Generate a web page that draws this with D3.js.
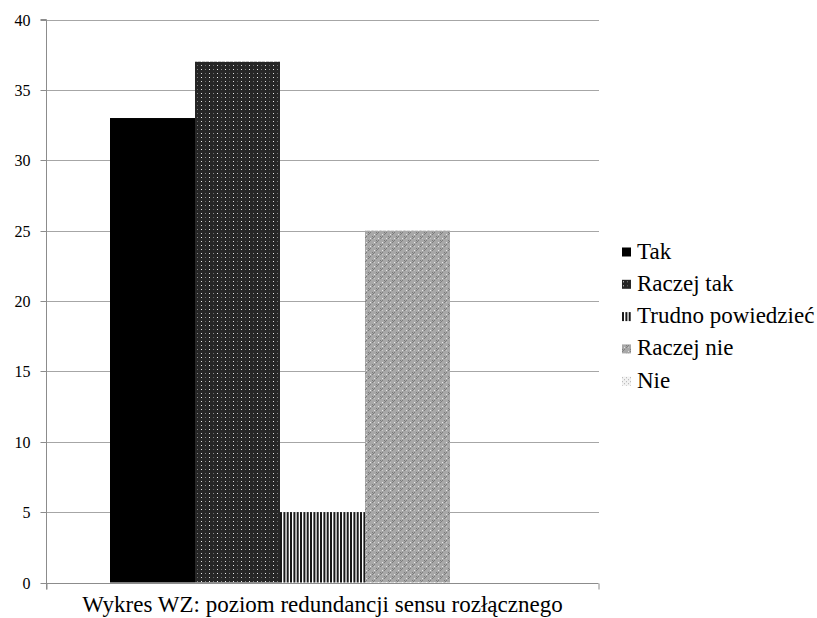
<!DOCTYPE html>
<html>
<head>
<meta charset="utf-8">
<script src="https://cdn.jsdelivr.net/npm/d3@7"></script>
<style>
  html, body { margin: 0; padding: 0; background: #fff; }
  svg { display: block; }
</style>
</head>
<body>
<svg id="chart" width="817" height="618"></svg>
<script>
// Survey answers and their counts
const categories = ["Tak", "Raczej tak", "Trudno powiedzieć", "Raczej nie", "Nie"];
const values = [33, 37, 5, 25, 0];
const yTicks = [0, 5, 10, 15, 20, 25, 30, 35, 40];
const title = "Wykres WZ: poziom redundancji sensu rozłącznego";

const SERIF = "'Liberation Serif', 'Times New Roman', serif";
const svg = d3.select("#chart").attr("font-family", SERIF);
const margin = { left: 46, right: 599, top: 19.5, bottom: 582.5 };

const y = d3.scaleLinear().domain([0, 40]).range([margin.bottom, margin.top]);
// One category group holding five bars side by side
const xGroup = d3.scaleBand().domain(["grp"]).range([margin.left, margin.right]).paddingInner(0).paddingOuter(0.1506);
const xBar = d3.scaleBand().domain(categories).range([xGroup("grp"), xGroup("grp") + xGroup.bandwidth()]);

// Fill patterns
const defs = svg.append("defs");

function pattern(id, w, h, base, cells) {
  const p = defs.append("pattern").attr("id", id).attr("patternUnits", "userSpaceOnUse")
    .attr("width", w).attr("height", h);
  p.append("rect").attr("width", w).attr("height", h).attr("fill", base);
  cells.forEach(c => p.append("rect").attr("x", c[0]).attr("y", c[1])
    .attr("width", c[2] || 1).attr("height", c[3] || 1).attr("fill", c[4]));
}

pattern("p-tak", 4, 4, "#000", []);
pattern("p-raczej-tak", 8, 8, "#262626", [
  [1, 1, 1, 1, "#d8d8d8"], [5, 5, 1, 1, "#8a8a8a"], [5, 1, 1, 1, "#6a6a6a"], [1, 5, 1, 1, "#f0f0f0"]
]);
pattern("p-trudno", 10, 4, "#fff", [
  [0, 0, 2, 4, "#1a1a1a"], [3.4, 0, 2, 4, "#1a1a1a"], [6.7, 0, 2, 4, "#1a1a1a"]
]);
pattern("p-raczej-nie", 8, 8, "#a8a8a8", [
  [0, 0, 1, 1, "#7c7c7c"], [2, 0, 1, 1, "#7c7c7c"], [1, 1, 1, 1, "#7c7c7c"], [0, 2, 1, 1, "#7c7c7c"],
  [4, 4, 1, 1, "#7c7c7c"], [6, 4, 1, 1, "#7c7c7c"], [5, 5, 1, 1, "#7c7c7c"], [4, 6, 1, 1, "#7c7c7c"],
  [6, 2, 1, 1, "#e8e8e8"], [2, 6, 1, 1, "#e8e8e8"], [6, 6, 1, 1, "#c8c8c8"]
]);
pattern("p-nie", 4, 4, "#f2f2f2", [
  [0, 0, 1, 1, "#b0b0b0"], [2, 2, 1, 1, "#b0b0b0"]
]);
const fills = ["url(#p-tak)", "url(#p-raczej-tak)", "url(#p-trudno)", "url(#p-raczej-nie)", "url(#p-nie)"];

// Horizontal gridlines
svg.append("g").selectAll("line").data(yTicks.filter(d => d > 0)).join("line")
  .attr("x1", margin.left).attr("x2", margin.right)
  .attr("y1", d => Math.round(y(d)) + 0.5).attr("y2", d => Math.round(y(d)) + 0.5)
  .attr("stroke", "#a6a6a6").attr("stroke-width", 1);

// Bars
svg.append("g").selectAll("rect").data(categories).join("rect")
  .attr("x", d => xBar(d))
  .attr("y", (d, i) => y(values[i]))
  .attr("width", xBar.bandwidth())
  .attr("height", (d, i) => y(0) - y(values[i]))
  .attr("fill", (d, i) => fills[i]);

// Y axis
const yAxis = svg.append("g").attr("transform", `translate(${margin.left + 0.5},0)`)
  .call(d3.axisLeft(y).tickValues(yTicks).tickSize(6).tickPadding(10));
yAxis.attr("font-family", SERIF).attr("font-size", 16);
yAxis.select(".domain").attr("stroke", "#8c8c8c").attr("d", `M-6,${margin.top}H0V${margin.bottom + 7}`);
yAxis.selectAll(".tick line").attr("stroke", "#8c8c8c");
yAxis.selectAll(".tick text").attr("fill", "#000").style("font-family", SERIF).style("font-size", "16px");
yAxis.selectAll(".tick").attr("transform", d => `translate(0,${Math.round(y(d)) + 0.5})`);

// Category axis along the bottom
const xAxis = svg.append("g").attr("transform", `translate(0,${Math.round(y(0)) + 0.5})`)
  .call(d3.axisBottom(d3.scaleLinear().domain([0, 1]).range([margin.left + 0.5, margin.right - 0.5])).tickValues([0, 1]).tickSize(6).tickFormat(""));
xAxis.select(".domain").attr("stroke", "#8c8c8c").attr("d", `M${margin.left + 0.5},0H${margin.right - 0.5}`);
xAxis.selectAll(".tick line").attr("stroke", "#8c8c8c");

// Title under the axis
svg.append("text").attr("x", (margin.left + margin.right) / 2).attr("y", 612)
  .attr("text-anchor", "middle").style("font-family", SERIF).style("font-size", "23px").text(title);

// Legend
const legend = svg.append("g").selectAll("g").data(categories).join("g")
  .attr("transform", (d, i) => `translate(622,${252 + i * 32.3})`);
legend.append("rect").attr("x", 0).attr("y", -4.5).attr("width", 9).attr("height", 9)
  .attr("fill", (d, i) => fills[i]);
legend.append("text").attr("x", 15).attr("y", 6.5)
  .style("font-family", SERIF).style("font-size", "23px").text(d => d);
</script>
</body>
</html>
